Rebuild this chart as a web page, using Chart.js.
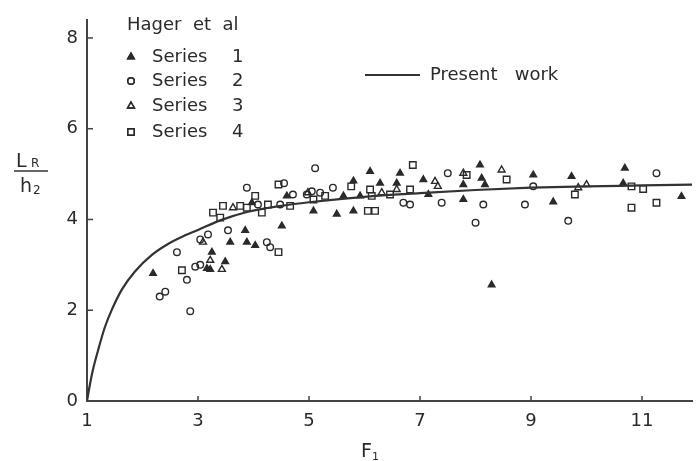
<!DOCTYPE html>
<html>
<head>
<meta charset="utf-8">
<script src="https://cdn.jsdelivr.net/npm/chart.js@4/dist/chart.umd.min.js"></script>
<style>
  html, body { margin: 0; padding: 0; background: #ffffff; }
  #wrap { width: 698px; height: 461px; }
</style>
</head>
<body>
<div id="wrap"><canvas id="c" width="698" height="461"></canvas></div>
<script>
// ---- Tick labels ----
const F_TICKS = [1, 3, 5, 7, 9, 11];
const L_TICKS = [0, 2, 4, 6, 8];

// ---- Present work curve ----
const curveF = [1.0, 1.04, 1.1, 1.2, 1.32, 1.45, 1.63, 1.86, 2.17, 2.46, 2.77, 3.0, 3.4, 3.9, 4.5, 5.0, 6.0, 7.0, 8.0, 9.0, 10.0, 11.0, 11.9];
const curveL = [0.0, 0.28, 0.65, 1.12, 1.62, 2.02, 2.46, 2.85, 3.22, 3.46, 3.65, 3.77, 3.98, 4.17, 4.3, 4.38, 4.5, 4.58, 4.65, 4.7, 4.73, 4.75, 4.77];

// ---- Hager et al, Series 1 (filled triangles) ----
const s1F = [2.19, 3.16, 3.22, 3.25, 3.49, 3.58, 3.85, 3.88, 4.03, 4.51, 4.6, 5.08, 5.5, 5.8, 5.8, 5.62, 5.92, 6.1, 6.28, 6.64, 6.58, 7.06, 7.15, 7.78, 7.78, 8.08, 8.11, 8.17, 8.29, 9.04, 9.4, 9.73, 10.69, 10.66, 11.71, 3.97];
const s1L = [2.81, 2.92, 2.9, 3.28, 3.07, 3.5, 3.76, 3.5, 3.43, 3.86, 4.52, 4.19, 4.12, 4.19, 4.85, 4.52, 4.52, 5.06, 4.8, 5.02, 4.8, 4.88, 4.55, 4.77, 4.44, 5.2, 4.91, 4.77, 2.56, 4.98, 4.39, 4.95, 5.13, 4.8, 4.51, 4.37];

// ---- Series 2 (open circles) ----
const s2F = [2.62, 2.8, 2.95, 3.04, 2.31, 2.41, 2.86, 3.04, 3.18, 3.54, 4.24, 4.3, 3.88, 4.71, 5.11, 5.43, 5.05, 4.96, 5.2, 6.7, 6.82, 7.5, 7.39, 8.14, 8.0, 8.89, 9.04, 9.67, 11.26, 4.08, 4.48, 4.55];
const s2L = [3.28, 2.67, 2.96, 3.0, 2.3, 2.41, 1.98, 3.56, 3.67, 3.76, 3.5, 3.39, 4.7, 4.55, 5.13, 4.7, 4.62, 4.55, 4.59, 4.37, 4.33, 5.02, 4.37, 4.33, 3.93, 4.33, 4.73, 3.97, 5.02, 4.33, 4.33, 4.8];

// ---- Series 3 (open triangles) ----
const s3F = [3.22, 3.43, 3.09, 6.31, 6.58, 7.27, 7.32, 7.78, 8.47, 9.85, 10.0, 3.63, 4.98];
const s3L = [3.1, 2.9, 3.5, 4.59, 4.66, 4.84, 4.73, 5.02, 5.09, 4.7, 4.77, 4.26, 4.59];

// ---- Series 4 (open squares) ----
const s4F = [2.71, 4.45, 3.27, 3.45, 3.76, 4.03, 4.45, 5.08, 5.76, 6.06, 6.19, 6.1, 6.13, 6.46, 6.82, 6.87, 7.84, 8.56, 9.79, 10.81, 11.02, 10.81, 11.26, 3.88, 4.26, 4.66, 5.29, 4.15, 3.4];
const s4L = [2.88, 3.28, 4.15, 4.3, 4.3, 4.52, 4.77, 4.44, 4.73, 4.19, 4.19, 4.66, 4.52, 4.55, 4.66, 5.2, 4.98, 4.88, 4.55, 4.73, 4.67, 4.26, 4.37, 4.26, 4.33, 4.3, 4.52, 4.15, 4.04];

const legendTitle = 'Hager  et  al';
const FONT = '"DejaVu Sans", "Liberation Sans", sans-serif';
const INK = '#2a2a2a';

function pts(xs, ys) { return xs.map((x, i) => ({ x: x, y: ys[i] })); }

const seriesStyle = [
  { label: 'Series 1', data: pts(s1F, s1L), pointStyle: 'triangle', radius: 3.8, fill: INK },
  { label: 'Series 2', data: pts(s2F, s2L), pointStyle: 'circle', radius: 3.3, fill: 'rgba(255,255,255,0)' },
  { label: 'Series 3', data: pts(s3F, s3L), pointStyle: 'triangle', radius: 4, fill: 'rgba(255,255,255,0)' },
  { label: 'Series 4', data: pts(s4F, s4L), pointStyle: 'rect', radius: 4.6, fill: 'rgba(255,255,255,0)' }
];

const datasets = seriesStyle.map(s => ({
  type: 'scatter',
  label: s.label,
  data: s.data,
  pointStyle: s.pointStyle,
  pointRadius: s.radius,
  pointBorderWidth: 1.4,
  pointBorderColor: INK,
  pointBackgroundColor: s.fill,
  showLine: false
}));

datasets.unshift({
  type: 'line',
  label: 'Present   work',
  data: pts(curveF, curveL),
  borderColor: '#333',
  borderWidth: 2.2,
  pointRadius: 0,
  cubicInterpolationMode: 'monotone',
  fill: false
});

function marker(ctx, style, r, fill, x, y) {
  ctx.save();
  ctx.strokeStyle = INK;
  ctx.fillStyle = fill;
  ctx.lineWidth = 1.4;
  if (Chart.helpers && Chart.helpers.drawPoint) {
    Chart.helpers.drawPoint(ctx, { pointStyle: style, radius: r, borderWidth: 1.4, rotation: 0 }, x, y);
    ctx.fill();
    ctx.stroke();
  } else {
    ctx.beginPath();
    if (style === 'circle') ctx.arc(x, y, r, 0, Math.PI * 2);
    else if (style === 'rect') ctx.rect(x - r * 0.7, y - r * 0.7, r * 1.4, r * 1.4);
    else { ctx.moveTo(x, y - r); ctx.lineTo(x + r * 0.87, y + r * 0.5); ctx.lineTo(x - r * 0.87, y + r * 0.5); ctx.closePath(); }
    ctx.fill(); ctx.stroke();
  }
  ctx.restore();
}

const decor = {
  id: 'decor',
  afterDraw(chart) {
    const ctx = chart.ctx;
    const xs = chart.scales.x, ys = chart.scales.y;
    const area = chart.chartArea;
    ctx.save();
    // inward tick marks
    ctx.strokeStyle = '#444';
    ctx.lineWidth = 1.5;
    F_TICKS.forEach(v => {
      if (v === xs.min) return;
      const px = xs.getPixelForValue(v);
      ctx.beginPath(); ctx.moveTo(px, area.bottom); ctx.lineTo(px, area.bottom - 5); ctx.stroke();
    });
    L_TICKS.forEach(v => {
      if (v === ys.min) return;
      const py = ys.getPixelForValue(v);
      ctx.beginPath(); ctx.moveTo(area.left, py); ctx.lineTo(area.left + 6, py); ctx.stroke();
    });

    // y-axis title as fraction L_R / h_2
    ctx.fillStyle = INK;
    ctx.textBaseline = 'alphabetic';
    ctx.textAlign = 'left';
    ctx.font = '19px ' + FONT;
    ctx.fillText('L', 16, 167);
    ctx.font = '12px ' + FONT;
    ctx.fillText('R', 31, 167);
    ctx.lineWidth = 1.6;
    ctx.strokeStyle = '#333';
    ctx.beginPath(); ctx.moveTo(14, 171); ctx.lineTo(48, 171); ctx.stroke();
    ctx.font = '19px ' + FONT;
    ctx.fillText('h', 20, 192);
    ctx.font = '12px ' + FONT;
    ctx.fillText('2', 33, 194);

    // x-axis title F_1
    ctx.font = '19px ' + FONT;
    ctx.fillText('F', 361, 457);
    ctx.font = '11px ' + FONT;
    ctx.fillText('1', 372, 460);

    // legend: Hager et al
    ctx.font = '18px ' + FONT;
    ctx.textBaseline = 'middle';
    ctx.fillText(legendTitle, 127, 25);
    const rowsY = [57, 81, 106, 132];
    chart.data.datasets.forEach(ds => {
      if (ds.type !== 'scatter') return;
      const idx = seriesStyle.findIndex(s => s.label === ds.label);
      const y = rowsY[idx];
      marker(ctx, ds.pointStyle, ds.pointRadius, ds.pointBackgroundColor, 131, y);
      const parts = ds.label.split(' ');
      ctx.fillStyle = INK;
      ctx.font = '18px ' + FONT;
      ctx.fillText(parts[0], 152, y);
      ctx.fillText(parts[1], 232, y);
    });
    // legend: Present work
    const line = chart.data.datasets[0];
    ctx.strokeStyle = line.borderColor;
    ctx.lineWidth = line.borderWidth;
    ctx.beginPath(); ctx.moveTo(365, 75); ctx.lineTo(420, 75); ctx.stroke();
    ctx.fillText(line.label, 430, 75);
    ctx.restore();
  }
};

new Chart(document.getElementById('c'), {
  data: { datasets: datasets },
  options: {
    responsive: false,
    devicePixelRatio: 1,
    animation: false,
    layout: { padding: { left: 0, right: 6, top: 15, bottom: 0 } },
    plugins: { legend: { display: false }, tooltip: { enabled: false } },
    scales: {
      x: {
        type: 'linear',
        min: 1,
        max: 11.9,
        grid: { display: false, drawTicks: false },
        border: { display: true, color: '#444', width: 2 },
        ticks: { color: INK, font: { family: FONT, size: 18 }, padding: 10, autoSkip: false, maxRotation: 0 },
        afterBuildTicks: s => { s.ticks = F_TICKS.map(v => ({ value: v })); },
        afterFit: s => { s.height = 60; }
      },
      y: {
        type: 'linear',
        min: 0,
        max: 8.4,
        grid: { display: false, drawTicks: false },
        border: { display: true, color: '#444', width: 2 },
        ticks: { color: INK, font: { family: FONT, size: 18 }, padding: 9, autoSkip: false },
        afterBuildTicks: s => { s.ticks = L_TICKS.map(v => ({ value: v })); },
        afterFit: s => { s.width = 87; }
      }
    }
  },
  plugins: [decor]
});
</script>
</body>
</html>
